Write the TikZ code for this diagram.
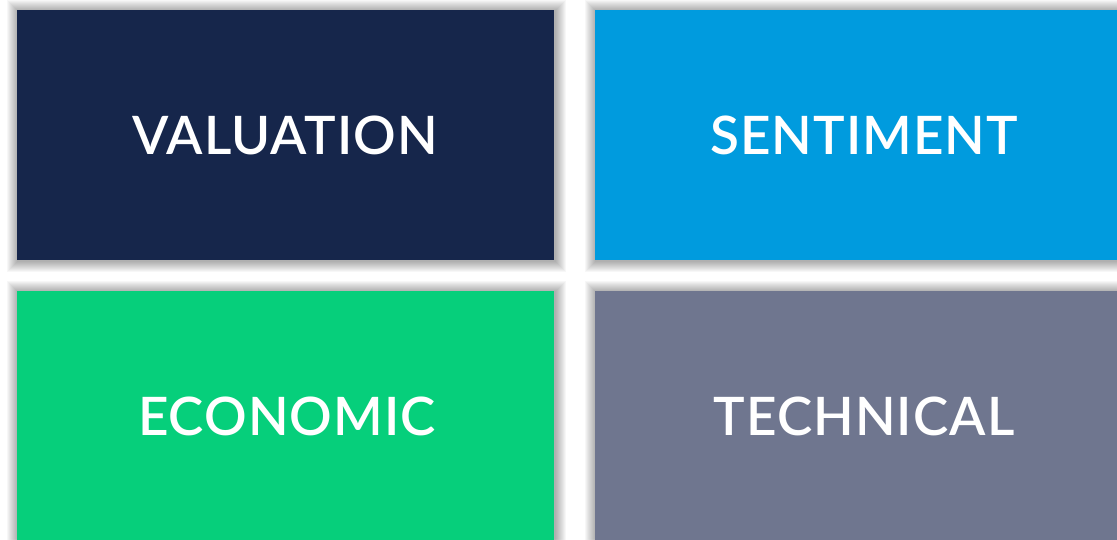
\documentclass[tikz,border=0pt]{standalone}
\usepackage{fontspec}
\setmainfont{Lato}
\newfontfamily\lblfont{Lato Semibold}[LetterSpace=2]
\usetikzlibrary{calc}
\definecolor{navy}{RGB}{22,38,75}
\definecolor{skyb}{RGB}{0,155,222}
\definecolor{mint}{RGB}{6,207,123}
\definecolor{slate}{RGB}{111,118,143}
\tikzset{
  tile/.style={draw=none,inner sep=0pt,anchor=north west},
  lbl/.style={text=white,font=\lblfont\fontsize{53}{60}\selectfont,inner sep=0pt,anchor=base}
}
\newcommand\softshadow[4]{%
  \foreach \r in {1,2,...,11}{
    \fill[black,opacity=0.03] ($(#1,#2)+(1-\r,-1+\r)$) rectangle ($(#3,#4)+(1+\r,-1-\r)$);
  }}
\begin{document}
\begin{tikzpicture}[x=1pt,y=1pt]
\useasboundingbox (0,0) rectangle (1117,539);
\fill[white] (0,0) rectangle (1117,539);
\begin{scope}
\clip (0,0) rectangle (1117,539);
\softshadow{17}{529}{554}{279}
\softshadow{595}{529}{1140}{279}
\softshadow{17}{248}{554}{-20}
\softshadow{595}{248}{1140}{-20}
\node[tile,fill=navy,minimum width=537pt,minimum height=250pt] (val) at (17,529) {};
\node[tile,fill=skyb,minimum width=545pt,minimum height=250pt] (sen) at (595,529) {};
\node[tile,fill=mint,minimum width=537pt,minimum height=268pt] (eco) at (17,248) {};
\node[tile,fill=slate,minimum width=545pt,minimum height=268pt] (tec) at (595,248) {};
\end{scope}
\node[lbl] (tval) at (285,384) {VALUATION};
\node[lbl] (tsen) at (864,384) {SENTIMENT};
\node[lbl] (teco) at (287,104) {ECONOMIC};
\node[lbl] (ttec) at (864,104) {TECHNICAL};
\end{tikzpicture}
\end{document}
